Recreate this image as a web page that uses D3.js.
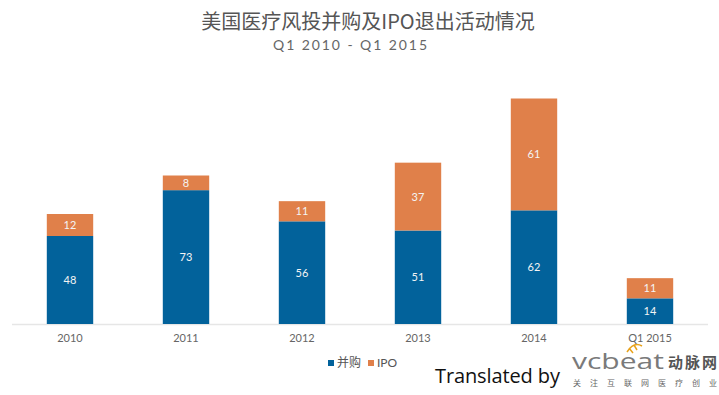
<!DOCTYPE html>
<html>
<head>
<meta charset="utf-8">
<script src="https://cdn.jsdelivr.net/npm/d3@7"></script>
<style>
  body { margin: 0; background: #fff; }
  svg { display: block; }
</style>
</head>
<body>
<svg id="chart" width="719" height="395"></svg>
<script>
const categories = ['2010', '2011', '2012', '2013', '2014', 'Q1 2015'];
const mnaValues = [48, 73, 56, 51, 62, 14];
const ipoValues = [12, 8, 11, 37, 61, 11];
const seriesNames = ['并购', 'IPO'];
const seriesColors = ['#02629b', '#e0804a'];

const svg = d3.select('#chart');
const baseline = 324;

const rows = categories.map((c, i) => ({ cat: c, mna: mnaValues[i], ipo: ipoValues[i] }));
const stack = d3.stack().keys(['mna', 'ipo'])(rows);

const x = d3.scaleBand()
  .domain(categories)
  .range([12, 708])
  .paddingInner(0.6)
  .paddingOuter(0.3);

const y = d3.scaleLinear()
  .domain([0, 123])
  .range([baseline, 98.5]);

// titles
svg.append('text')
  .attr('x', 368).attr('y', 29)
  .attr('text-anchor', 'middle')
  .attr('font-family', 'Noto Sans CJK SC, sans-serif')
  .attr('font-size', 20)
  .attr('fill', '#555')
  .text('美国医疗风投并购及IPO退出活动情况');

svg.append('text')
  .attr('x', 273).attr('y', 50)
  .attr('textLength', 154)
  .attr('font-family', 'Lato, sans-serif')
  .attr('font-size', 14)
  .attr('fill', '#666')
  .text('Q1 2010 - Q1 2015');

// axis line
svg.append('line')
  .attr('x1', 12).attr('x2', 708)
  .attr('y1', baseline + 0.5).attr('y2', baseline + 0.5)
  .attr('stroke', '#e6e6e6')
  .attr('stroke-width', 1.5);

// bars
const layer = svg.selectAll('g.layer')
  .data(stack)
  .join('g')
  .attr('class', 'layer')
  .attr('fill', (d, i) => seriesColors[i]);

layer.selectAll('rect')
  .data(d => d)
  .join('rect')
  .attr('x', d => x(d.data.cat))
  .attr('width', x.bandwidth())
  .attr('y', d => y(d[1]))
  .attr('height', d => y(d[0]) - y(d[1]));

layer.selectAll('text')
  .data(d => d)
  .join('text')
  .attr('x', d => x(d.data.cat) + x.bandwidth() / 2)
  .attr('y', d => (y(d[0]) + y(d[1])) / 2 + 4)
  .attr('text-anchor', 'middle')
  .attr('font-family', 'Lato, sans-serif')
  .attr('font-size', 11)
  .attr('fill', '#f4f4f4')
  .text(d => d[1] - d[0]);

// x axis labels
const xAxis = d3.axisBottom(x).tickSize(0).tickPadding(10);
const gx = svg.append('g')
  .attr('transform', 'translate(0,' + baseline + ')')
  .call(xAxis);
gx.select('.domain').remove();
gx.selectAll('text')
  .attr('font-family', 'Lato, sans-serif')
  .attr('font-size', 11)
  .attr('fill', '#666');

// legend
const legend = svg.append('g').attr('transform', 'translate(328,357)');
const legendX = [0, 40];
seriesNames.forEach((name, i) => {
  const g = legend.append('g').attr('transform', 'translate(' + legendX[i] + ',0)');
  g.append('rect').attr('width', 6).attr('height', 6).attr('y', 3).attr('fill', seriesColors[i]);
  g.append('text')
    .attr('x', 9).attr('y', 10)
    .attr('font-family', i === 0 ? 'Noto Sans CJK SC, sans-serif' : 'Lato, sans-serif')
    .attr('font-size', 12)
    .attr('fill', '#555')
    .text(name);
});

// translated by
svg.append('text')
  .attr('x', 435).attr('y', 383)
  .attr('textLength', 125)
  .attr('font-family', 'Open Sans, sans-serif')
  .attr('font-size', 20)
  .attr('fill', '#111')
  .text('Translated by');

// vcbeat logo
const logo = svg.append('g');
logo.append('text')
  .attr('x', 572).attr('y', 369)
  .attr('textLength', 92)
  .attr('lengthAdjust', 'spacingAndGlyphs')
  .attr('font-family', 'Open Sans, sans-serif')
  .attr('font-size', 22)
  .attr('fill', '#7a7a7a')
  .text('vcbeat');
logo.append('path')
  .attr('d', 'M627,352 C632,344 637,343 642,346 M629,348 L633,353 M634,345 L637,350')
  .attr('fill', 'none')
  .attr('stroke', '#e8a21a')
  .attr('stroke-width', 1.5);
logo.append('text')
  .attr('x', 668).attr('y', 368)
  .attr('textLength', 49)
  .attr('font-family', 'Noto Sans CJK SC, sans-serif')
  .attr('font-weight', 'bold')
  .attr('font-size', 15)
  .attr('fill', '#555')
  .text('动脉网');
logo.append('text')
  .attr('x', 573).attr('y', 386)
  .attr('textLength', 144)
  .attr('font-family', 'Noto Sans CJK SC, sans-serif')
  .attr('font-size', 8)
  .attr('fill', '#666')
  .text('关注互联网医疗创业');
</script>
</body>
</html>
